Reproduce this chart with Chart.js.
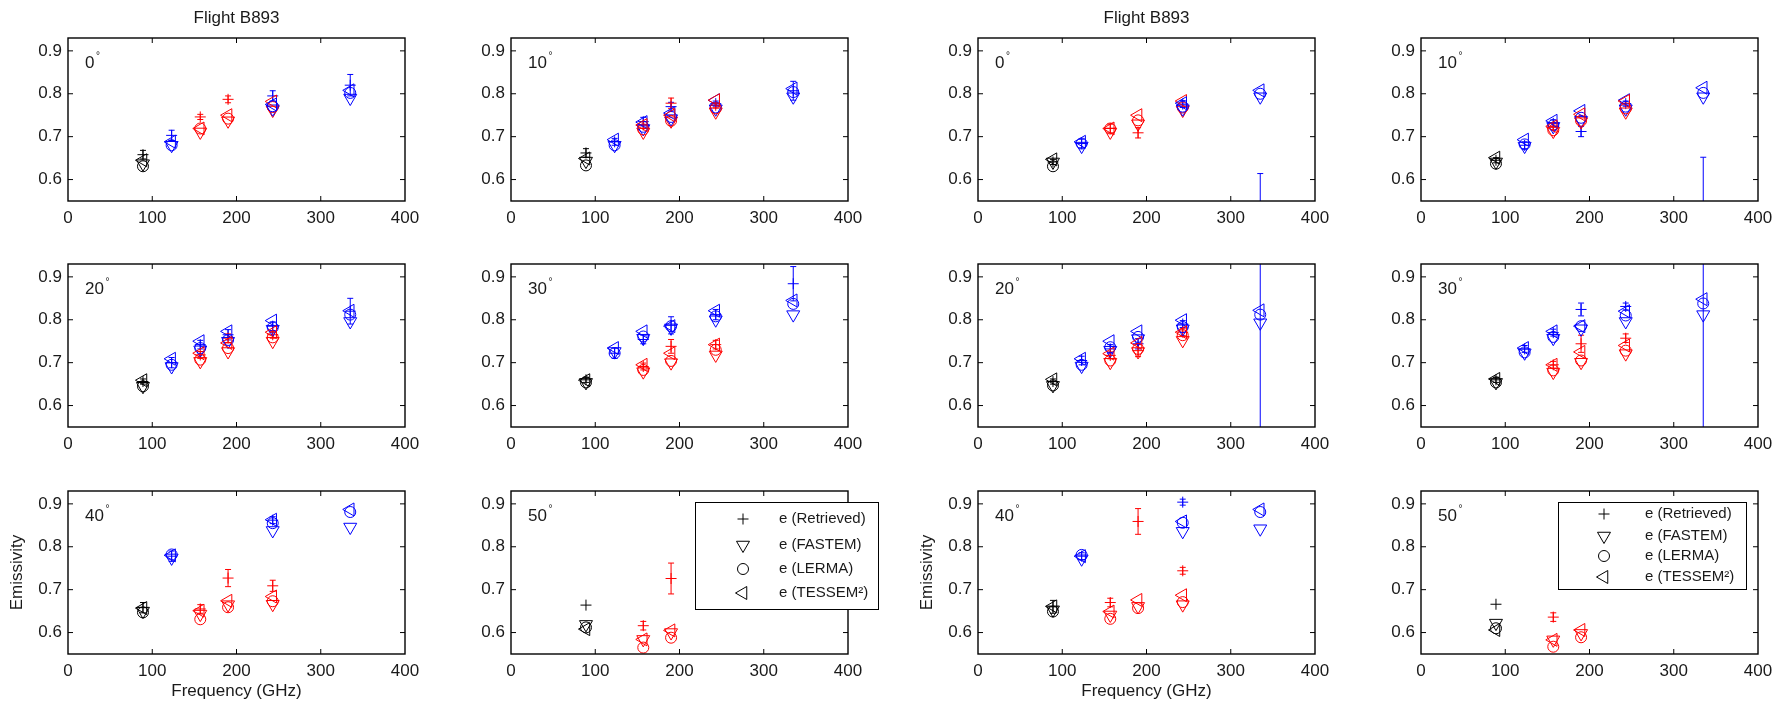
<!DOCTYPE html>
<html>
<head>
<meta charset="utf-8">
<script src="https://cdn.jsdelivr.net/npm/chart.js@4/dist/chart.umd.min.js"></script>
<style>
html, body { margin: 0; padding: 0; background: #ffffff; }
#wrap { position: relative; width: 1788px; height: 704px; overflow: hidden; background: #ffffff; }
#wrap canvas { position: absolute; }
</style>
</head>
<body>
<div id="wrap"></div>
<script>
// ---------------- data ----------------
const xTicks = [0, 100, 200, 300, 400];
const yTicks = [0.6, 0.7, 0.8, 0.9];
const angles = [0, 10, 0, 10, 20, 30, 20, 30, 40, 50, 40, 50];
const seriesNames = ['e (Retrieved)', 'e (FASTEM)', 'e (LERMA)', 'e (TESSEM²)'];
const flightTitle = 'Flight B893';
const xTitle = 'Frequency (GHz)';
const yTitle = 'Emissivity';

// left figure, 0 deg
const A0_freq   = [89, 123, 157, 190, 243, 243, 335];
const A0_pol    = ['M', 'V', 'H', 'H', 'H', 'V', 'V'];
const A0_ret    = [0.658, 0.703, 0.746, 0.787, null, 0.795, 0.820];
const A0_err    = [0.010, 0.012, 0.006, 0.008, null, 0.012, 0.025];
const A0_fastem = [0.637, 0.680, 0.711, 0.737, 0.762, 0.765, 0.790];
const A0_lerma  = [0.631, 0.680, 0.719, 0.742, 0.769, 0.771, 0.802];
const A0_tessem = [0.645, 0.688, 0.719, 0.750, 0.782, 0.775, 0.808];

// left figure, 10 deg
const A10_freq   = [89, 123, 157, 157, 190, 190, 243, 243, 335];
const A10_pol    = ['M', 'V', 'V', 'H', 'V', 'H', 'V', 'H', 'V'];
const A10_ret    = [0.662, 0.688, 0.735, 0.727, 0.770, 0.778, 0.777, 0.773, 0.807];
const A10_err    = [0.010, 0.008, 0.010, 0.008, 0.010, 0.012, 0.006, 0.006, 0.022];
const A10_fastem = [0.643, 0.680, 0.719, 0.711, 0.742, 0.737, 0.765, 0.758, 0.793];
const A10_lerma  = [0.633, 0.680, 0.723, 0.717, 0.746, 0.737, 0.768, 0.766, 0.804];
const A10_tessem = [0.649, 0.693, 0.734, 0.727, 0.755, 0.750, 0.785, 0.785, 0.812];

// right figure, 0 deg
const B0_freq   = [89, 123, 157, 190, 243, 243, 335];
const B0_pol    = ['M', 'V', 'H', 'H', 'H', 'V', 'V'];
const B0_ret    = [0.641, 0.684, 0.719, 0.709, null, 0.776, 0.400];
const B0_err    = [0.006, 0.010, 0.010, 0.012, null, 0.008, 0.214];
const B0_fastem = [0.641, 0.678, 0.711, 0.730, 0.762, 0.765, 0.793];
const B0_lerma  = [0.631, 0.684, 0.719, 0.738, 0.768, 0.770, 0.800];
const B0_tessem = [0.647, 0.688, 0.719, 0.750, 0.783, 0.778, 0.808];

// right figure, 10 deg
const B10_freq   = [89, 123, 157, 157, 190, 190, 243, 243, 335];
const B10_pol    = ['M', 'V', 'V', 'H', 'V', 'H', 'V', 'H', 'V'];
const B10_ret    = [0.645, 0.680, 0.731, 0.724, 0.712, null, 0.777, null, 0.400];
const B10_err    = [0.006, 0.008, 0.008, 0.008, 0.012, null, 0.006, null, 0.252];
const B10_fastem = [0.641, 0.678, 0.724, 0.713, 0.738, 0.735, 0.765, 0.758, 0.793];
const B10_lerma  = [0.637, 0.682, 0.727, 0.715, 0.744, 0.737, 0.770, 0.766, 0.802];
const B10_tessem = [0.651, 0.693, 0.737, 0.724, 0.760, 0.752, 0.785, 0.783, 0.814];

// left figure, 20 deg
const A20_freq   = [89, 123, 157, 157, 190, 190, 243, 243, 335];
const A20_pol    = ['M', 'V', 'V', 'H', 'V', 'H', 'V', 'H', 'V'];
const A20_ret    = [0.656, 0.700, 0.742, 0.718, 0.765, 0.757, 0.785, 0.765, 0.820];
const A20_err    = [0.006, 0.012, 0.010, 0.008, 0.012, 0.010, 0.010, 0.008, 0.030];
const A20_fastem = [0.645, 0.691, 0.730, 0.703, 0.750, 0.726, 0.778, 0.750, 0.796];
const A20_lerma  = [0.645, 0.695, 0.734, 0.707, 0.753, 0.734, 0.782, 0.759, 0.812];
const A20_tessem = [0.659, 0.709, 0.750, 0.722, 0.773, 0.746, 0.798, 0.771, 0.821];

// left figure, 30 deg
const A30_freq   = [89, 123, 157, 157, 190, 190, 243, 243, 335];
const A30_pol    = ['M', 'V', 'V', 'H', 'V', 'H', 'V', 'H', 'V'];
const A30_ret    = [0.660, 0.722, 0.754, 0.691, 0.787, 0.738, 0.812, 0.742, 0.884];
const A30_err    = [0.006, 0.012, 0.010, 0.008, 0.020, 0.016, 0.012, 0.010, 0.040];
const A30_fastem = [0.654, 0.726, 0.757, 0.679, 0.781, 0.700, 0.800, 0.718, 0.812];
const A30_lerma  = [0.654, 0.722, 0.761, 0.683, 0.785, 0.704, 0.808, 0.730, 0.837];
const A30_tessem = [0.659, 0.734, 0.773, 0.695, 0.785, 0.722, 0.821, 0.742, 0.845];

// right figure, 20 deg
const B20_freq   = [89, 123, 157, 157, 190, 190, 243, 243, 335];
const B20_pol    = ['M', 'V', 'V', 'H', 'V', 'H', 'V', 'H', 'V'];
const B20_ret    = [0.656, 0.705, 0.732, 0.717, 0.744, 0.728, 0.790, 0.771, 0.300];
const B20_err    = [0.006, 0.010, 0.010, 0.008, 0.012, 0.014, 0.008, 0.008, 0.700];
const B20_fastem = [0.647, 0.692, 0.729, 0.701, 0.756, 0.726, 0.779, 0.752, 0.793];
const B20_lerma  = [0.647, 0.695, 0.736, 0.705, 0.760, 0.732, 0.783, 0.764, 0.812];
const B20_tessem = [0.661, 0.709, 0.750, 0.721, 0.773, 0.746, 0.799, 0.771, 0.822];

// right figure, 30 deg
const B30_freq   = [89, 123, 157, 157, 190, 190, 243, 243, 335];
const B30_pol    = ['M', 'V', 'V', 'H', 'V', 'H', 'V', 'H', 'V'];
const B30_ret    = [0.660, 0.732, 0.770, 0.695, 0.824, 0.744, 0.831, 0.757, 0.300];
const B30_err    = [0.006, 0.008, 0.008, 0.008, 0.015, 0.020, 0.008, 0.010, 0.700];
const B30_fastem = [0.654, 0.723, 0.757, 0.678, 0.779, 0.701, 0.796, 0.721, 0.812];
const B30_lerma  = [0.654, 0.724, 0.760, 0.682, 0.785, 0.705, 0.810, 0.728, 0.838];
const B30_tessem = [0.662, 0.734, 0.773, 0.695, 0.785, 0.725, 0.820, 0.740, 0.848];

// left figure, 40 deg
const A40_freq   = [89, 123, 157, 190, 243, 243, 335];
const A40_pol    = ['M', 'V', 'H', 'H', 'H', 'V', 'V'];
const A40_ret    = [0.658, 0.778, 0.655, 0.727, 0.709, 0.862, null];
const A40_err    = [0.012, 0.012, 0.010, 0.020, 0.013, 0.008, null];
const A40_fastem = [0.650, 0.774, 0.643, 0.665, 0.666, 0.838, 0.846];
const A40_lerma  = [0.647, 0.782, 0.631, 0.659, 0.673, 0.855, 0.881];
const A40_tessem = [0.657, 0.780, 0.651, 0.674, 0.684, 0.863, 0.887];

// left figure, 50 deg
const A50_freq   = [89, 157, 190];
const A50_pol    = ['M', 'H', 'H'];
const A50_ret    = [0.664, 0.616, 0.726];
const A50_err    = [null, 0.010, 0.036];
const A50_fastem = [0.619, 0.584, 0.600];
const A50_lerma  = [0.612, 0.565, 0.588];
const A50_tessem = [0.608, 0.584, 0.605];

// right figure, 40 deg
const B40_freq   = [89, 123, 157, 190, 243, 243, 335];
const B40_pol    = ['M', 'V', 'H', 'H', 'H', 'V', 'V'];
const B40_ret    = [0.660, 0.778, 0.670, 0.859, 0.744, 0.904, null];
const B40_err    = [0.015, 0.008, 0.010, 0.030, 0.008, 0.007, null];
const B40_fastem = [0.653, 0.772, 0.641, 0.661, 0.665, 0.836, 0.842];
const B40_lerma  = [0.649, 0.781, 0.632, 0.657, 0.671, 0.856, 0.881];
const B40_tessem = [0.661, 0.778, 0.649, 0.676, 0.687, 0.859, 0.887];

// right figure, 50 deg
const B50_freq   = [89, 157, 190];
const B50_pol    = ['M', 'H', 'H'];
const B50_ret    = [0.666, 0.636, null];
const B50_err    = [null, 0.010, null];
const B50_fastem = [0.622, 0.583, 0.598];
const B50_lerma  = [0.610, 0.567, 0.589];
const B50_tessem = [0.606, 0.583, 0.606];

// ---------------- styles / layout ----------------
const polColor = { M: '#000000', V: '#0000ff', H: '#ff0000' };
const TEXT = '#1a1a1a';
const FONT = "'Liberation Sans', Arial, Helvetica, sans-serif";
Chart.defaults.font.family = FONT;
Chart.defaults.color = TEXT;

const colPlotLeft = [68, 511, 978, 1421];
const rowPlotTop = [38, 264, 491];
const PLOT_W = 337, PLOT_H = 163, AXIS_W = 68, PAD_R = 45;

const markerStyles = [
  { style: 'cross', rot: 0, r: 5.5 },
  { style: 'triangle', rot: 180, r: 7.5 },
  { style: 'circle', rot: 0, r: 5.5 },
  { style: 'triangle', rot: 270, r: 7.5 }
];

const legendBoxes = {
  9:  { x0: 184, y0: 11, x1: 368, y1: 119, rows: [28, 54, 78, 102], mx: 232, tx: 268 },
  11: { x0: 137, y0: 11, x1: 326, y1: 99,  rows: [23, 45, 65, 86],  mx: 183, tx: 224 }
};

function mk(freq, pol, ret, err, fastem, lerma, tessem) {
  return { freq, pol, ret, err, models: [ret, fastem, lerma, tessem] };
}
const panels = [
  mk(A0_freq, A0_pol, A0_ret, A0_err, A0_fastem, A0_lerma, A0_tessem),
  mk(A10_freq, A10_pol, A10_ret, A10_err, A10_fastem, A10_lerma, A10_tessem),
  mk(B0_freq, B0_pol, B0_ret, B0_err, B0_fastem, B0_lerma, B0_tessem),
  mk(B10_freq, B10_pol, B10_ret, B10_err, B10_fastem, B10_lerma, B10_tessem),
  mk(A20_freq, A20_pol, A20_ret, A20_err, A20_fastem, A20_lerma, A20_tessem),
  mk(A30_freq, A30_pol, A30_ret, A30_err, A30_fastem, A30_lerma, A30_tessem),
  mk(B20_freq, B20_pol, B20_ret, B20_err, B20_fastem, B20_lerma, B20_tessem),
  mk(B30_freq, B30_pol, B30_ret, B30_err, B30_fastem, B30_lerma, B30_tessem),
  mk(A40_freq, A40_pol, A40_ret, A40_err, A40_fastem, A40_lerma, A40_tessem),
  mk(A50_freq, A50_pol, A50_ret, A50_err, A50_fastem, A50_lerma, A50_tessem),
  mk(B40_freq, B40_pol, B40_ret, B40_err, B40_fastem, B40_lerma, B40_tessem),
  mk(B50_freq, B50_pol, B50_ret, B50_err, B50_fastem, B50_lerma, B50_tessem)
];

function drawMarker(ctx, m, x, y) {
  ctx.beginPath();
  if (m.style === 'cross') {
    ctx.moveTo(x - m.r, y); ctx.lineTo(x + m.r, y);
    ctx.moveTo(x, y - m.r); ctx.lineTo(x, y + m.r);
  } else if (m.style === 'circle') {
    ctx.arc(x, y, m.r, 0, Math.PI * 2);
  } else {
    let rad = m.rot * Math.PI / 180;
    ctx.moveTo(x + Math.sin(rad) * m.r, y - Math.cos(rad) * m.r);
    for (let k = 0; k < 2; k++) {
      rad += 2 * Math.PI / 3;
      ctx.lineTo(x + Math.sin(rad) * m.r, y - Math.cos(rad) * m.r);
    }
    ctx.closePath();
  }
  ctx.stroke();
}

const framePlugin = {
  id: 'frame',
  beforeDatasetsDraw(chart, args, opts) {
    const { ctx, chartArea: a } = chart;
    const xs = chart.scales.x, ys = chart.scales.y;
    const p = opts.panel;
    ctx.save();
    ctx.beginPath();
    ctx.rect(a.left, a.top, a.right - a.left, a.bottom - a.top);
    ctx.clip();
    ctx.lineWidth = 1;
    p.freq.forEach((f, i) => {
      const v = p.ret[i], e = p.err[i];
      if (v == null || e == null) return;
      const px = xs.getPixelForValue(f);
      const y1 = ys.getPixelForValue(v - e), y2 = ys.getPixelForValue(v + e);
      ctx.strokeStyle = polColor[p.pol[i]];
      ctx.beginPath();
      ctx.moveTo(px, y1); ctx.lineTo(px, y2);
      ctx.moveTo(px - 3, y1); ctx.lineTo(px + 3, y1);
      ctx.moveTo(px - 3, y2); ctx.lineTo(px + 3, y2);
      ctx.stroke();
    });
    ctx.restore();
  },
  afterDatasetsDraw(chart, args, opts) {
    const { ctx, chartArea: a } = chart;
    const xs = chart.scales.x, ys = chart.scales.y;
    ctx.save();
    // frame
    ctx.strokeStyle = '#000000';
    ctx.lineWidth = 1.4;
    ctx.strokeRect(a.left, a.top, a.right - a.left, a.bottom - a.top);
    // inward ticks
    ctx.lineWidth = 1;
    ctx.beginPath();
    yTicks.forEach(v => {
      const py = ys.getPixelForValue(v);
      ctx.moveTo(a.left, py); ctx.lineTo(a.left + 5, py);
      ctx.moveTo(a.right, py); ctx.lineTo(a.right - 5, py);
    });
    xTicks.forEach(v => {
      const px = xs.getPixelForValue(v);
      if (px <= a.left + 1 || px >= a.right - 1) return;
      ctx.moveTo(px, a.bottom); ctx.lineTo(px, a.bottom - 5);
      ctx.moveTo(px, a.top); ctx.lineTo(px, a.top + 5);
    });
    ctx.stroke();
    // angle label
    ctx.fillStyle = TEXT;
    ctx.font = '17px ' + FONT;
    ctx.textBaseline = 'middle';
    ctx.textAlign = 'left';
    const lab = String(opts.angle);
    ctx.fillText(lab, a.left + 17, a.top + 25);
    const w = ctx.measureText(lab).width;
    ctx.font = '10px ' + FONT;
    ctx.textBaseline = 'alphabetic';
    ctx.fillText('°', a.left + 17 + w + 1.5, a.top + 21);
    // legend
    const L = opts.legend;
    if (L) {
      ctx.fillStyle = '#ffffff';
      ctx.fillRect(a.left + L.x0, a.top + L.y0, L.x1 - L.x0, L.y1 - L.y0);
      ctx.strokeStyle = '#000000';
      ctx.lineWidth = 1;
      ctx.strokeRect(a.left + L.x0 + 0.5, a.top + L.y0 + 0.5, L.x1 - L.x0 - 1, L.y1 - L.y0 - 1);
      ctx.font = '15px ' + FONT;
      ctx.textBaseline = 'middle';
      ctx.fillStyle = TEXT;
      seriesNames.forEach((name, k) => {
        const yy = a.top + L.rows[k];
        drawMarker(ctx, markerStyles[k], a.left + L.mx, yy);
        ctx.fillText(name, a.left + L.tx, yy);
      });
    }
    ctx.restore();
  }
};

const wrap = document.getElementById('wrap');

panels.forEach((p, idx) => {
  const r = Math.floor(idx / 4), c = idx % 4;
  const padTop = r === 0 ? 38 : 20;
  const xAxisH = r === 2 ? 50 : 35;
  const W = AXIS_W + PLOT_W + PAD_R, H = padTop + PLOT_H + xAxisH;
  const canvas = document.createElement('canvas');
  canvas.width = W; canvas.height = H;
  canvas.style.width = W + 'px'; canvas.style.height = H + 'px';
  canvas.style.left = (colPlotLeft[c] - AXIS_W) + 'px';
  canvas.style.top = (rowPlotTop[r] - padTop) + 'px';
  wrap.appendChild(canvas);

  const hasTitle = r === 0 && (c === 0 || c === 2);
  const hasAxisTitles = r === 2 && (c === 0 || c === 2);

  const datasets = p.models.map((vals, k) => ({
    label: seriesNames[k],
    data: p.freq.map((f, i) => ({ x: f, y: vals[i] })),
    showLine: false,
    pointStyle: markerStyles[k].style,
    pointRotation: markerStyles[k].rot,
    pointRadius: markerStyles[k].r,
    pointBorderWidth: 1,
    pointBorderColor: p.pol.map(q => polColor[q]),
    pointBackgroundColor: 'rgba(0,0,0,0)',
    order: 4 - k
  }));

  new Chart(canvas, {
    type: 'scatter',
    data: { datasets },
    options: {
      responsive: false,
      animation: false,
      devicePixelRatio: 1,
      events: [],
      layout: { padding: { top: hasTitle ? 0 : padTop, right: PAD_R, left: 0, bottom: 0 } },
      plugins: {
        legend: { display: false },
        tooltip: { enabled: false },
        title: {
          display: hasTitle, text: flightTitle, fullSize: false, color: TEXT,
          font: { size: 17, weight: 'normal', lineHeight: '20px' },
          padding: { top: 8, bottom: 10 }
        },
        frame: { panel: p, angle: angles[idx], legend: legendBoxes[idx] || null }
      },
      scales: {
        x: {
          type: 'linear', position: 'bottom', min: 0, max: 400,
          grid: { display: false, drawTicks: false },
          border: { display: false },
          ticks: { padding: 7, font: { size: 17 }, color: TEXT, maxRotation: 0, autoSkip: false,
                   callback: v => String(v) },
          afterBuildTicks: s => { s.ticks = xTicks.map(v => ({ value: v })); },
          afterFit: s => { s.height = xAxisH; },
          title: { display: hasAxisTitles, text: xTitle, color: TEXT,
                   font: { size: 17 }, padding: { top: 0, bottom: 2 } }
        },
        y: {
          type: 'linear', position: 'left', min: 0.55, max: 0.93,
          grid: { display: false, drawTicks: false },
          border: { display: false },
          ticks: { padding: 6, font: { size: 17 }, color: TEXT, autoSkip: false,
                   callback: v => Number(v).toFixed(1) },
          afterBuildTicks: s => { s.ticks = yTicks.map(v => ({ value: v })); },
          afterFit: s => { s.width = AXIS_W; },
          title: { display: hasAxisTitles, text: yTitle, color: TEXT,
                   font: { size: 17 }, padding: { top: 7, bottom: 0 } }
        }
      }
    },
    plugins: [framePlugin]
  });
});
</script>
</body>
</html>
